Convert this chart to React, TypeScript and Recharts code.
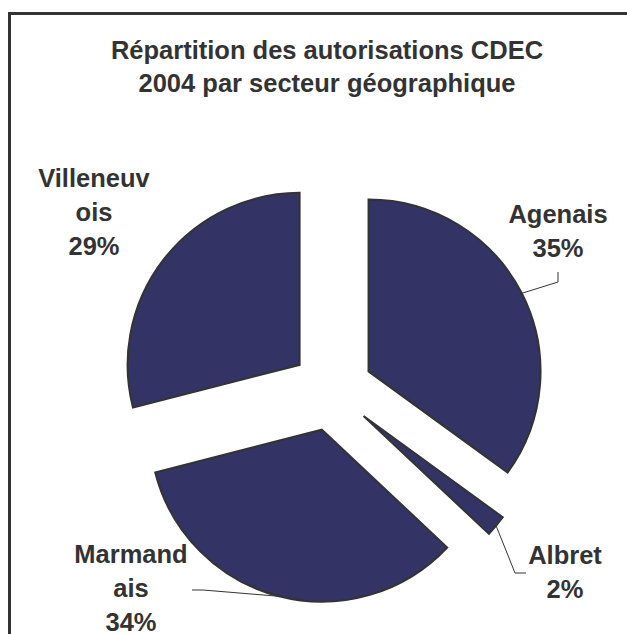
import React from "react";
import { PieChart, Pie, Cell, Sector } from "recharts";

const sectors = ["Agenais", "Albret", "Marmandais", "Villeneuvois"];
const shares = [35, 2, 34, 29];
// names wrap the way the original labels do
const labelLines = [["Agenais"], ["Albret"], ["Marmand", "ais"], ["Villeneuv", "ois"]];
const titleLines = ["Répartition des autorisations CDEC", "2004 par secteur géographique"];

const data = sectors.map((name, i) => ({ name, value: shares[i], lines: labelLines[i] }));

const RAD = Math.PI / 180;
const EXPLODE = 41;
const FILL = "#333366";
const INK = "#333333";
const FONT = "'Liberation Sans', Arial, Helvetica, sans-serif";

// label placement relative to the pie centre: text centre, first baseline, leader bends
const labelLayout: Record<string, { dx: number; dy: number; leader: number[][] | null }> = {
  Agenais: { dx: 226, dy: -167, leader: [[226, -108], [226, -118]] },
  Albret: { dx: 233, dy: 174, leader: [[183, 183], [194, 183]] },
  Marmandais: { dx: -201, dy: 173, leader: [[-129, 200], [-140, 200]] },
  Villeneuvois: { dx: -238, dy: -203, leader: null },
};

const explodedSlice = (props: any) => {
  const { cx, cy, midAngle } = props;
  const ox = EXPLODE * Math.cos(-midAngle * RAD);
  const oy = EXPLODE * Math.sin(-midAngle * RAD);
  return <Sector {...props} cx={cx + ox} cy={cy + oy} />;
};

const renderLabel = (props: any) => {
  const { cx, cy, midAngle, outerRadius, name } = props;
  const d = data.find((x) => x.name === name) || data[props.index];
  const lay = labelLayout[d.name];
  const cos = Math.cos(-midAngle * RAD);
  const sin = Math.sin(-midAngle * RAD);
  const sx = cx + (EXPLODE + outerRadius) * cos;
  const sy = cy + (EXPLODE + outerRadius) * sin;
  const rows = [...d.lines, `${d.value}%`];

  return (
    <g>
      {lay.leader && (
        <polyline
          points={[[sx, sy], ...lay.leader.map(([x, y]) => [cx + x, cy + y])]
            .map((p) => p.join(","))
            .join(" ")}
          fill="none"
          stroke={INK}
          strokeWidth={1}
        />
      )}
      <text
        x={cx + lay.dx}
        y={cy + lay.dy}
        textAnchor="middle"
        fill={INK}
        fontSize={25.5}
        fontWeight="bold"
        fontFamily={FONT}
      >
        {rows.map((t, k) => (
          <tspan key={k} x={cx + lay.dx} dy={k === 0 ? 0 : 34}>
            {t}
          </tspan>
        ))}
      </text>
    </g>
  );
};

export default function App() {
  return (
    <div
      style={{
        position: "absolute",
        left: 0,
        top: 0,
        width: 627,
        height: 634,
        overflow: "hidden",
        background: "#fff",
      }}
    >
      {/* chart frame, runs off the right and bottom edges */}
      <div
        style={{
          position: "absolute",
          left: 8,
          top: 12,
          width: 700,
          height: 700,
          borderLeft: `3px solid ${INK}`,
          borderTop: `3px solid ${INK}`,
        }}
      />

      <div
        style={{
          position: "absolute",
          left: 8,
          top: 34,
          width: 638,
          textAlign: "center",
          fontFamily: FONT,
          fontWeight: "bold",
          fontSize: 25.5,
          lineHeight: "33px",
          color: INK,
        }}
      >
        {titleLines.map((t) => (
          <div key={t}>{t}</div>
        ))}
      </div>

      <div style={{ position: "absolute", left: 0, top: 0 }}>
        <PieChart width={627} height={634}>
          <Pie
            data={data}
            dataKey="value"
            nameKey="name"
            cx={327}
            cy={385}
            outerRadius={172}
            startAngle={90}
            endAngle={-270}
            stroke={INK}
            strokeWidth={2}
            shape={explodedSlice}
            label={renderLabel}
            labelLine={false}
            isAnimationActive={false}
          >
            {data.map((d) => (
              <Cell key={d.name} fill={FILL} stroke={INK} />
            ))}
          </Pie>
        </PieChart>
      </div>
    </div>
  );
}
